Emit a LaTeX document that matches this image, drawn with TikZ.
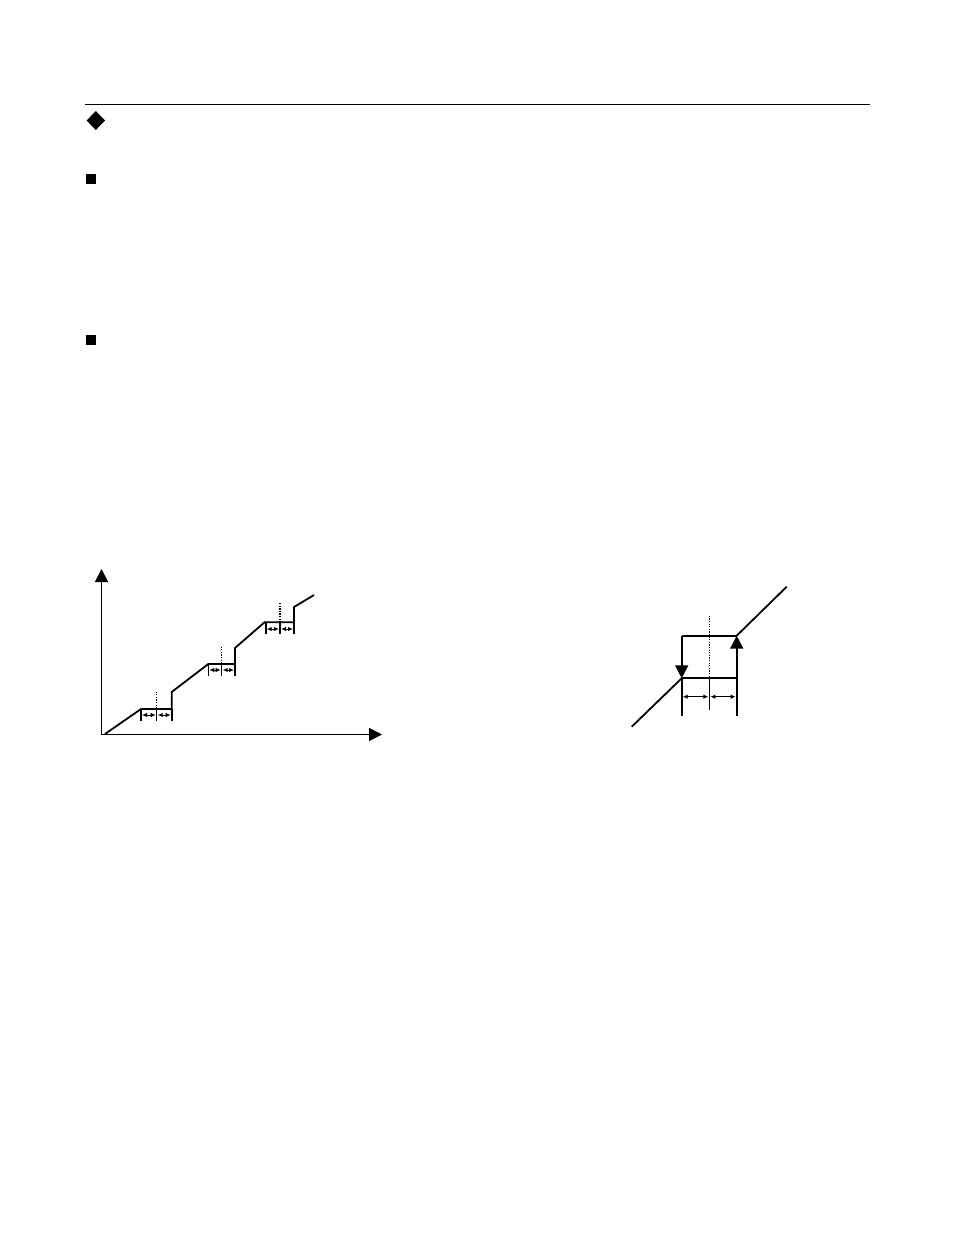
\documentclass[tikz,border=0pt]{standalone}
\usetikzlibrary{arrows.meta}
\begin{document}
\begin{tikzpicture}[x=1pt,y=-1pt,
  thick line/.style={line width=1.8pt,line join=miter},
  axisarrow/.style={thick line,-{Triangle[length=13pt,width=13pt]}},
  bigtip/.style={thick line,-{Triangle[length=13pt,width=13pt]}},
  tickline/.style={line width=1.6pt},
  dotline/.style={line width=0.8pt,dash pattern=on 1.3pt off 1.3pt},
  midline/.style={line width=0.9pt},
  dbl/.style={line width=1pt,{Latex[length=5pt,width=4.5pt]}-{Latex[length=5pt,width=4.5pt]}, shorten <=1pt, shorten >=1pt}]
\useasboundingbox[fill=white] (0,0) rectangle (954,1235);
% header
\draw[line width=1pt] (85,104) -- (870,104);
\fill (95.8,111) -- (105,120.5) -- (95.8,130) -- (86.6,120.5) -- cycle;
\fill (86,174) rectangle (96,184);
\fill (86,335) rectangle (96,345);
% left chart axes
\coordinate (O) at (101.5,734.5);
\coordinate (Ytop) at (101.5,569);
\coordinate (Xend) at (382,734.5);
\draw[axisarrow] (O) -- (Ytop);
\draw[axisarrow] (O) -- (Xend);
% staircase
\coordinate (s0) at (105,734);
\coordinate (a1) at (141,709); \coordinate (b1) at (171.7,709); \coordinate (c1) at (171.7,692);
\coordinate (a2) at (208.3,664); \coordinate (b2) at (235,664); \coordinate (c2) at (235,648);
\coordinate (a3) at (264.5,622.3); \coordinate (b3) at (294,622.3); \coordinate (c3) at (294,607);
\coordinate (s4) at (314,595);
\draw[thick line] (s0) -- (a1) -- (b1) -- (c1) -- (a2) -- (b2) -- (c2) -- (a3) -- (b3) -- (c3) -- (s4);
% step 1 details
\coordinate (t1l) at (141,721); \coordinate (t1r) at (171.7,721);
\coordinate (m1t) at (156.7,691.5); \coordinate (m1h) at (156.7,709); \coordinate (m1b) at (156.7,721);
\draw[tickline] (a1) -- (t1l); \draw[tickline] (b1) -- (t1r);
\draw[dotline] (m1t) -- (m1h); \draw[midline] (m1h) -- (m1b);
\draw[dbl] (141,715) -- (156.7,715);
\draw[dbl] (156.7,715) -- (171.7,715);
% step 2 details
\coordinate (t2l) at (208.3,675.5); \coordinate (t2r) at (235,675.5);
\coordinate (m2t) at (221.7,646.5); \coordinate (m2h) at (221.7,664); \coordinate (m2b) at (221.7,675.5);
\draw[tickline] (a2) -- (t2l); \draw[tickline] (b2) -- (t2r);
\draw[dotline] (m2t) -- (m2h); \draw[midline] (m2h) -- (m2b);
\draw[dbl] (208.3,670) -- (221.7,670);
\draw[dbl] (221.7,670) -- (235,670);
% step 3 details
\coordinate (t3l) at (265.7,634); \coordinate (t3r) at (294,634);
\coordinate (m3t) at (280,603); \coordinate (m3h) at (280,622.3); \coordinate (m3b) at (280,634);
\draw[tickline] (265.7,622.3) -- (t3l); \draw[tickline] (b3) -- (t3r);
\draw[line width=1.1pt,dash pattern=on 1.3pt off 1.3pt] (m3t) -- (m3h); \draw[line width=1.3pt] (m3h) -- (m3b);
\draw[dbl] (265.7,629) -- (280,629);
\draw[dbl] (280,629) -- (294,629);
% right chart
\coordinate (d0) at (631.7,726.7);
\coordinate (BL) at (681.7,678.3);
\coordinate (BR) at (736.7,678.3);
\coordinate (TL) at (681.7,635.7);
\coordinate (TR) at (736.7,635.7);
\coordinate (d1) at (786.7,586.7);
\coordinate (eL) at (681.7,716);
\coordinate (eR) at (736.7,716);
\coordinate (mt) at (709.3,615.7);
\coordinate (mh) at (709.3,678.3);
\coordinate (mb) at (709.3,710);
\draw[thick line] (d0) -- (BL);
\draw[thick line] (TR) -- (d1);
\draw[thick line] (TL) -- (TR);
\draw[thick line] (BL) -- (BR);
\draw[bigtip] (TL) -- (BL);
\draw[bigtip] (BR) -- (TR);
\draw[thick line] (BL) -- (eL);
\draw[thick line] (BR) -- (eR);
\draw[dotline] (mt) -- (mh);
\draw[midline] (mh) -- (mb);
\draw[dbl] (681.7,696.7) -- (709.3,696.7);
\draw[dbl] (709.3,696.7) -- (736.7,696.7);
\end{tikzpicture}
\end{document}
